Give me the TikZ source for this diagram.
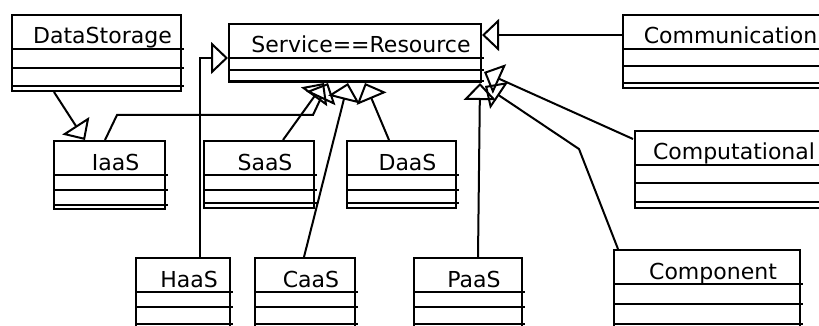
\documentclass[tikz,border=0pt]{standalone}
\usepackage{fontspec}
\setmainfont{DejaVu Sans}
\usepackage{tikz}
\usetikzlibrary{calc,arrows.meta}

\tikzset{
  classbox/.style={draw, line width=1pt, inner sep=0pt, anchor=north west},
  classline/.style={line width=1pt},
  classname/.style={anchor=base, font=\fontsize{11}{13}\selectfont},
  inherit/.style={line width=1pt, -{Triangle[open, length=8.5pt, width=16pt]}},
}

\begin{document}
\begin{tikzpicture}[x=0.5pt, y=-0.5pt]
\useasboundingbox (0,0) rectangle (819,326);
\clip (0,0) rectangle (819,326);

\foreach \n/\xa/\ya/\xb/\yb/\db/\dc/\t in {
    datastorage/11/14/180/90/54/72/DataStorage,
    service/228/23/480/81/47/58/Service==Resource,
    communication/622/14/825/87/52/69/Communication,
    computational/634/130/820/207/53/72/Computational,
    iaas/53/140/164/208/50/65/IaaS,
    saas/203/140/313/207/50/63/SaaS,
    daas/346/140/455/207/50/63/DaaS,
    haas/135/257/229/328/50/67/HaaS,
    caas/254/257/354/328/50/67/CaaS,
    paas/413/257/521/328/50/67/PaaS,
    component/613/249/799/328/55/75/Component}
{
  \node[classbox, minimum width={(\xb-\xa)*0.5pt}, minimum height={(\yb-\ya)*0.5pt}] (\n) at (\xa,\ya) {};
  \draw[classline] ($(\n.north west)+(0,35)$)  -- ($(\n.north east)+(2,35)$);
  \draw[classline] ($(\n.north west)+(0,\db)$) -- ($(\n.north east)+(2,\db)$);
  \draw[classline] ($(\n.north west)+(0,\dc)$) -- ($(\n.north east)+(2,\dc)$);
  \node[classname] at ($(\n.north)+(6,30)$) {\t};
}

\draw[inherit] ($(datastorage.south west)+(43,0)$) -- ($(iaas.north west)+(32,0)$);
\draw[inherit] ($(iaas.north west)+(52,0)$) -- ++(12,-25) -- ++(196,0) -- ($(service.south west)+(100,0)$);
\draw[inherit] ($(saas.north west)+(80,0)$) -- ($(service.south west)+(96,0)$);
\draw[inherit] ($(caas.north west)+(50,0)$) -- ($(service.south west)+(120,0)$);
\draw[inherit] ($(daas.north west)+(43,0)$) -- ($(service.south west)+(137,0)$);
\draw[inherit] ($(haas.north west)+(65,0)$) |- ($(service.north west)+(0,35)$);
\draw[inherit] ($(paas.north west)+(65,0)$) -- ($(service.south east)+(-2,0)$);
\draw[inherit] ($(communication.north west)+(0,21)$) -- ($(service.north east)+(0,12)$);
\draw[inherit] ($(computational.north west)+(-1,9)$) -- ($(service.south east)+(2,-11)$);
\draw[inherit] ($(component.north west)+(5,0)$) -- ++(-39,-100) -- ($(service.south east)+(3,3)$);

\end{tikzpicture}
\end{document}
